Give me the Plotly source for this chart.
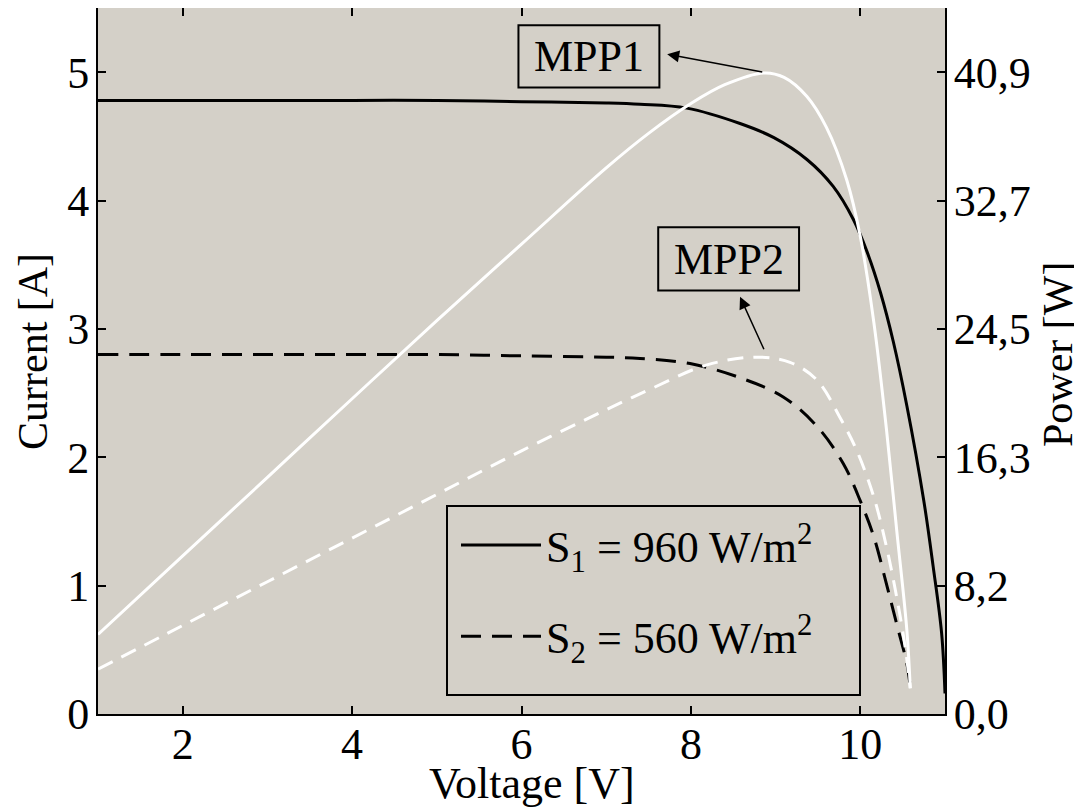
import plotly.graph_objects as go

# ---------------- data ----------------
# Current-voltage curve, S1 = 960 W/m2
v_i1 = [1.0, 2.0, 3.0, 4.0, 5.0, 6.0, 7.0, 7.4, 7.95, 8.58, 8.98, 9.37, 9.68, 9.92, 10.08, 10.24, 10.39, 10.55, 10.75, 10.86, 10.96, 11.0]
i1 = [4.78, 4.78, 4.78, 4.78, 4.78, 4.77, 4.76, 4.75, 4.72, 4.60, 4.49, 4.32, 4.11, 3.85, 3.60, 3.28, 2.90, 2.40, 1.66, 1.15, 0.63, 0.16]

# Current-voltage curve, S2 = 560 W/m2
v_i2 = [1.0, 2.0, 3.0, 4.0, 5.0, 6.0, 7.0, 7.4, 7.99, 8.58, 9.09, 9.49, 9.80, 10.0, 10.16, 10.31, 10.43, 10.55, 10.59]
i2 = [2.80, 2.80, 2.80, 2.80, 2.80, 2.79, 2.78, 2.77, 2.73, 2.62, 2.47, 2.24, 1.95, 1.66, 1.38, 1.01, 0.70, 0.39, 0.21]

# Power-voltage curve, S1 (W)
v_p1 = [1.0, 2.0, 3.0, 4.0, 5.0, 6.0, 7.0, 7.5, 8.0, 8.4, 8.86, 9.1, 9.37, 9.6, 9.84, 10.0, 10.16, 10.31, 10.43, 10.55, 10.59]
p1 = [5.07, 10.08, 15.08, 20.09, 25.07, 29.94, 34.80, 37.00, 38.90, 40.10, 40.85, 40.57, 39.35, 37.38, 34.03, 30.43, 24.95, 18.08, 11.70, 5.32, 1.64]

# Power-voltage curve, S2 (W)
v_p2 = [1.0, 2.0, 3.0, 4.0, 5.0, 6.0, 7.0, 7.52, 8.19, 8.78, 9.17, 9.49, 9.76, 9.96, 10.16, 10.31, 10.43, 10.53, 10.59]
p2 = [2.86, 5.64, 8.43, 11.21, 13.99, 16.77, 19.39, 20.70, 22.25, 22.74, 22.41, 21.27, 18.90, 16.77, 13.82, 10.63, 7.44, 4.25, 1.64]

x_ticks = [2, 4, 6, 8, 10]
y_ticks = [0, 1, 2, 3, 4, 5]
power_tick_vals = [0.0, 8.18, 16.36, 24.54, 32.72, 40.9]
power_tick_text = ["0,0", "8,2", "16,3", "24,5", "32,7", "40,9"]

legend_names = ["S<sub>1</sub> = 960 W/m<sup>2</sup>", "S<sub>2</sub> = 560 W/m<sup>2</sup>"]
mpp_labels = ["MPP1", "MPP2"]
axis_titles = ["Voltage [V]", "Current [A]", "Power [W]"]

# ---------------- figure ----------------
FONT = "Liberation Serif"
BG = "#d4d0c8"
CUR_MAX = 5.5
P_SCALE = 8.18
SM = 1.0

# page body adds an 8 px offset; plot area on screen spans x 98..945, y 8..714
L, T, R, B = 98, 8, 945, 714
PW, PH = R - L, B - T

def px(sx):
    return (sx - L) / PW

def py(sy):
    return (B - sy) / PH

fig = go.Figure()

fig.add_trace(go.Scatter(x=v_i1, y=i1, mode="lines", name=legend_names[0], legendgroup="a",
                         line=dict(color="black", width=3, shape="spline", smoothing=SM)))
fig.add_trace(go.Scatter(x=v_i2, y=i2, mode="lines", name=legend_names[1], legendgroup="b",
                         line=dict(color="black", width=3, dash="20px,11px", shape="spline", smoothing=SM)))
fig.add_trace(go.Scatter(x=v_p1, y=p1, mode="lines", showlegend=False, yaxis="y2",
                         line=dict(color="white", width=3, shape="spline", smoothing=SM)))
fig.add_trace(go.Scatter(x=v_p2, y=p2, mode="lines", showlegend=False, yaxis="y2",
                         line=dict(color="white", width=3, dash="16px,10px", shape="spline", smoothing=SM)))

axis_common = dict(showgrid=False, zeroline=False, showline=True, linecolor="black", linewidth=2,
                   ticks="inside", ticklen=8, tickwidth=2, tickcolor="black", automargin=False,
                   tickfont=dict(family=FONT, size=44, color="black"))

fig.update_layout(
    width=1082, height=807,
    margin=dict(l=L - 8, r=1082 - (R - 8), t=T - 8, b=807 - (B - 8)),
    paper_bgcolor="white", plot_bgcolor=BG,
    font=dict(family=FONT, size=44, color="black"),
    xaxis=dict(range=[1, 11], tickvals=x_ticks, mirror="ticks", ticklabelstandoff=-10, **axis_common),
    yaxis=dict(range=[0, CUR_MAX], tickvals=y_ticks, mirror=True, ticklabelstandoff=-2, **axis_common),
    yaxis2=dict(range=[0, CUR_MAX * P_SCALE], tickvals=power_tick_vals, ticktext=power_tick_text,
                overlaying="y", side="right", ticklabelstandoff=-2, **axis_common),
    showlegend=True,
    legend=dict(x=px(456), y=py(510), xanchor="left", yanchor="top", bgcolor="rgba(0,0,0,0)",
                borderwidth=0, font=dict(family=FONT, size=44), itemwidth=80, tracegroupgap=31),
)

# axis titles
fig.add_annotation(text=axis_titles[0], xref="paper", yref="paper", x=px(532), y=py(783),
                   showarrow=False, xanchor="center", yanchor="middle", font=dict(family=FONT, size=44))
fig.add_annotation(text=axis_titles[1], xref="paper", yref="paper", x=px(33), y=py(352),
                   showarrow=False, textangle=-90, xanchor="center", yanchor="middle",
                   font=dict(family=FONT, size=42))
fig.add_annotation(text=axis_titles[2], xref="paper", yref="paper", x=px(1058), y=py(355),
                   showarrow=False, textangle=-90, xanchor="center", yanchor="middle",
                   font=dict(family=FONT, size=42))

# legend frame
fig.add_shape(type="rect", xref="paper", yref="paper", x0=px(447), x1=px(860),
              y0=py(695), y1=py(506), line=dict(color="black", width=2))

# MPP boxes and arrows
boxes = [((5.964, 4.881), (7.628, 5.365)), ((7.614, 3.299), (9.277, 3.792))]
for (x0, y0), (x1, y1) in boxes:
    fig.add_shape(type="rect", xref="x", yref="y", x0=x0, x1=x1, y0=y0, y1=y1,
                  line=dict(color="black", width=2))
label_pos = [(6.796, 5.123), (8.448, 3.541)]
for txt, (lx, ly) in zip(mpp_labels, label_pos):
    fig.add_annotation(x=lx, y=ly, xref="x", yref="y", text=txt, showarrow=False,
                       font=dict(family=FONT, size=44, color="black"))
arrows = [((7.72, 5.14), (8.86, 5.00)), ((8.58, 3.25), (8.87, 2.83))]
for (tx, ty), (sx, sy) in arrows:
    fig.add_annotation(x=tx, y=ty, xref="x", yref="y", ax=sx, ay=sy, axref="x", ayref="y",
                       text="", showarrow=True, arrowhead=2, arrowsize=1.6, arrowwidth=1.5,
                       arrowcolor="black")

fig.write_html("out.html")
